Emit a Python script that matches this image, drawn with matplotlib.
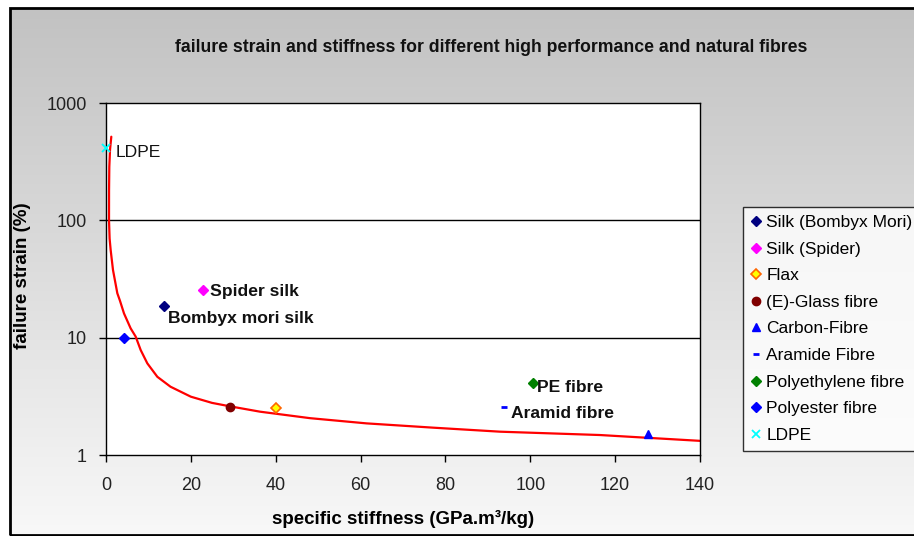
import numpy as np
import matplotlib
matplotlib.use("Agg")
import matplotlib.pyplot as plt
from matplotlib.patches import Rectangle
from matplotlib.lines import Line2D
from matplotlib.colors import LinearSegmentedColormap

plt.rcParams['font.family'] = ['Liberation Sans', 'DejaVu Sans']

# ---- data ----
series_names = ["Silk (Bombyx Mori)", "Silk (Spider)", "Flax", "(E)-Glass fibre",
                "Carbon-Fibre", "Aramide Fibre", "Polyethylene fibre",
                "Polyester fibre", "LDPE"]
stiffness = [13.7, 22.9, 40.0, 29.2, 127.7, 93.9, 100.7, 4.2, 0.0]
strain = [18.5, 25.5, 2.5, 2.55, 1.5, 2.55, 4.1, 10.0, 410.0]

# trend line
trend_x = [1.25, 0.95, 0.78, 0.72, 0.71, 0.85, 1.1, 1.65, 2.67, 3.3, 4.24, 5.81, 7.0,
           8.17, 9.74, 12.1, 15.2, 20.0, 25.0, 29.2, 36.3, 48.1, 61.4, 77.1,
           92.9, 116.4, 140.0]
trend_y = [516, 400, 286, 180, 100, 70, 55.8, 37.7, 23.9, 20.6, 16.1, 12.0, 10.2,
           7.85, 6.04, 4.64, 3.82, 3.14, 2.78, 2.6, 2.34, 2.06, 1.86, 1.71,
           1.58, 1.48, 1.32]

annotations = [("LDPE", 0.0, 410.0, "normal"),
               ("Spider silk", 22.9, 25.5, "bold"),
               ("Bombyx mori silk", 13.7, 18.5, "bold"),
               ("PE fibre", 100.7, 4.1, "bold"),
               ("Aramid fibre", 93.9, 2.55, "bold")]

title = "failure strain and stiffness for different high performance and natural fibres"
xlabel = "specific stiffness (GPa.m\u00b3/kg)"
ylabel = "failure strain (%)"
xticks = [0, 20, 40, 60, 80, 100, 120, 140]
yticks = [1, 10, 100, 1000]

# ---- styles ----
styles = [
    dict(marker="D", color="#000080", mec="#000080", ms=5),
    dict(marker="D", color="#FF00FF", mec="#FF00FF", ms=5),
    dict(marker="D", color="#FFFF00", mec="#FF6600", ms=5, mew=1.2),
    dict(marker="o", color="#800000", mec="#800000", ms=6),
    dict(marker="^", color="#0000FF", mec="#0000FF", ms=6),
    dict(marker="_", color="#0000FF", mec="#0000FF", ms=5, mew=2),
    dict(marker="D", color="#008000", mec="#008000", ms=5),
    dict(marker="D", color="#0000FF", mec="#0000FF", ms=5),
    dict(marker="x", color="#00FFFF", mec="#00FFFF", ms=6, mew=1.3),
]
ann_offsets = {"LDPE": (10, -4), "Spider silk": (7, -2), "Bombyx mori silk": (4, -12),
               "PE fibre": (4, -4), "Aramid fibre": (7, -6)}

W, H = 914, 536
fig = plt.figure(figsize=(W / 100, H / 100), dpi=100)
fig.patch.set_facecolor("white")

# gradient background inside the frame
bg = fig.add_axes([10 / W, 0, 1 - 10 / W, (H - 8) / H], zorder=-10)
grad = np.linspace(0, 1, 256)[:, None]
cmap = LinearSegmentedColormap.from_list("g", ["#c2c2c2", "#f8f8f8"])
bg.imshow(grad, aspect="auto", cmap=cmap, extent=[0, 1, 0, 1], origin="upper")
bg.axis("off")

fig.patches.append(Rectangle((10 / W, 1 / H), 1, (H - 9) / H, transform=fig.transFigure,
                             fill=False, edgecolor="black", linewidth=2, zorder=5))

ax = fig.add_axes([106 / W, 1 - 455 / H, (700 - 106) / W, (455 - 103) / H])
ax.set_facecolor("white")
ax.set_yscale("log")
ax.set_xlim(0, 140)
ax.set_ylim(1, 1000)

ax.plot(trend_x, trend_y, color="#FF0000", lw=1.6, zorder=2,
        solid_joinstyle="round", solid_capstyle="round")

handles = []
for name, xv, yv, st in zip(series_names, stiffness, strain, styles):
    st = dict(st)
    c = st.pop("color")
    ax.plot([xv], [yv], linestyle="none", color=c, mfc=c, zorder=4, clip_on=False, **st)
    handles.append(Line2D([], [], linestyle="none", color=c, mfc=c, label=name, **st))

for txt, xv, yv, wt in annotations:
    ax.annotate(txt, (xv, yv), xytext=ann_offsets[txt], textcoords="offset pixels",
                fontsize=12.6, fontweight=wt, va="center", ha="left",
                color="#111111", zorder=5)

ax.set_xticks(xticks)
ax.set_xticklabels([str(t) for t in xticks])
ax.set_yticks(yticks)
ax.set_yticklabels([str(t) for t in yticks])
ax.yaxis.set_minor_locator(matplotlib.ticker.NullLocator())
ax.tick_params(axis="both", direction="out", length=5, width=1, color="black",
               labelsize=13, labelcolor="#222222")
ax.tick_params(axis="x", pad=11)
ax.tick_params(axis="y", pad=9)
for s in ax.spines.values():
    s.set_color("black")
    s.set_linewidth(1)
for yv in [10, 100]:
    ax.axhline(yv, color="black", lw=1, zorder=1)

ax.set_xlabel(xlabel, fontsize=13.5, fontweight="bold", va="center")
ax.xaxis.set_label_coords((403 - 106) / 594, (455 - 519) / 352)
ax.set_ylabel(ylabel, fontsize=13.5, fontweight="bold", va="center")
ax.yaxis.set_label_coords((23 - 106) / 594, (455 - 276) / 352)

fig.text(491 / W, 1 - 48 / H, title, ha="center", va="center", fontsize=12.7,
         fontweight="bold", color="#111111")

leg = fig.legend(handles=handles, loc="upper left", bbox_to_anchor=(743 / W, 1 - 207 / H),
                 frameon=True, fancybox=False, edgecolor="black", facecolor="white",
                 fontsize=12.5, handlelength=0.6, handletextpad=0.3, borderpad=0.45,
                 labelspacing=0.66, borderaxespad=0)
leg.get_frame().set_linewidth(1)

fig.savefig("out.png", dpi=100)
